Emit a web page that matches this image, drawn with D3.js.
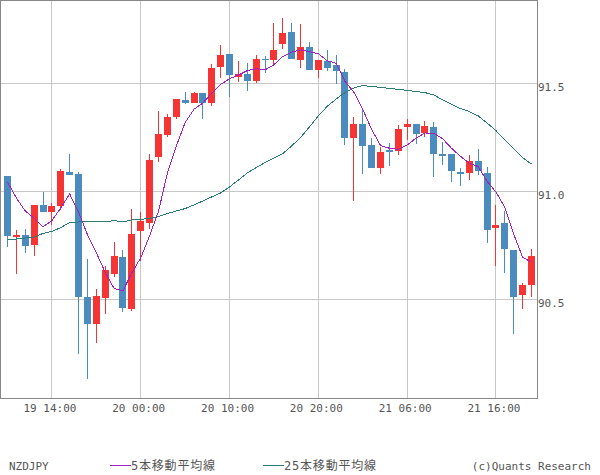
<!DOCTYPE html>
<html><head><meta charset="utf-8">
<script src="https://cdn.jsdelivr.net/npm/d3@7"></script>
<style>html,body{margin:0;padding:0;background:#fff;} svg{display:block;}</style>
</head><body>
<svg id="chart" width="600" height="475"></svg>
<script>
// ---- data ----
const symbol = "NZDJPY";
const ma5Label = "5本移動平均線";
const ma25Label = "25本移動平均線";
const credit = "(c)Quants Research";
const startTime = "19 09:00";
const xTickLabels = ["19 14:00", "20 00:00", "20 10:00", "20 20:00", "21 06:00", "21 16:00"];
const yTickValues = [90.5, 91.0, 91.5];

const openP = [91.072,90.790,90.799,90.752,90.938,90.905,90.933,91.090,91.081,90.512,
  90.387,90.507,90.618,90.697,90.456,90.817,90.854,91.160,91.262,91.345,
  91.424,91.410,91.456,91.410,91.576,91.637,91.530,91.544,91.512,91.613,
  91.609,91.683,91.738,91.609,91.669,91.5625,91.604,91.586,91.553,91.248,
  91.3125,91.215,91.109,91.192,91.1875,91.299,91.3125,91.271,91.299,91.174,
  91.174,91.090,91.086,91.141,91.086,90.831,90.854,90.729,90.521,90.567];
const highP = [91.072,90.822,90.826,90.938,90.998,90.947,91.104,91.174,91.090,90.688,
  90.549,90.655,90.766,90.729,90.919,90.905,91.174,91.373,91.359,91.428,
  91.461,91.461,91.456,91.590,91.678,91.637,91.604,91.595,91.632,91.627,
  91.780,91.803,91.780,91.775,91.692,91.609,91.655,91.632,91.567,91.345,
  91.377,91.248,91.206,91.225,91.308,91.336,91.3125,91.326,91.322,91.229,
  91.174,91.109,91.169,91.197,91.113,90.938,90.910,90.729,90.576,90.734];
const lowP = [90.743,90.618,90.717,90.701,90.905,90.845,90.914,91.076,90.248,90.132,
  90.299,90.433,90.604,90.442,90.447,90.678,90.826,91.137,91.252,91.336,
  91.405,91.410,91.336,91.396,91.525,91.438,91.507,91.465,91.502,91.549,
  91.586,91.660,91.613,91.572,91.5625,91.525,91.558,91.498,91.215,90.956,
  91.081,91.109,91.081,91.118,91.169,91.238,91.220,91.252,91.067,91.123,
  91.044,91.025,91.053,91.076,90.762,90.655,90.623,90.340,90.456,90.512];
const closeP = [90.794,90.800,90.748,90.938,90.905,90.933,91.095,91.076,90.512,90.387,
  90.516,90.637,90.701,90.461,90.803,90.863,91.146,91.266,91.345,91.428,
  91.410,91.456,91.410,91.572,91.632,91.539,91.544,91.512,91.613,91.609,
  91.655,91.734,91.613,91.669,91.5625,91.609,91.572,91.558,91.248,91.3125,
  91.211,91.109,91.183,91.183,91.289,91.3125,91.266,91.303,91.174,91.164,
  91.095,91.081,91.141,91.095,90.822,90.845,90.734,90.512,90.567,90.701];
const ma5 = [91.044,90.970,90.910,90.877,90.837,90.865,90.924,90.989,90.904,90.801,
  90.717,90.626,90.551,90.540,90.624,90.693,90.795,90.908,91.085,91.210,
  91.319,91.381,91.410,91.455,91.496,91.522,91.539,91.560,91.568,91.563,
  91.587,91.625,91.645,91.656,91.647,91.638,91.605,91.594,91.510,91.460,
  91.380,91.288,91.213,91.200,91.195,91.215,91.247,91.271,91.269,91.244,
  91.200,91.163,91.131,91.115,91.047,90.997,90.927,90.802,90.696,90.672];
const ma25 = [90.775,90.780,90.785,90.789,90.806,90.815,90.833,90.856,90.859,90.859,
  90.859,90.859,90.866,90.859,90.868,90.871,90.876,90.884,90.898,90.910,
  90.921,90.938,90.956,90.975,90.993,91.021,91.053,91.086,91.111,91.134,
  91.155,91.176,91.211,91.250,91.299,91.350,91.394,91.428,91.458,91.479,
  91.491,91.486,91.482,91.477,91.473,91.468,91.463,91.458,91.447,91.424,
  91.403,91.384,91.370,91.350,91.317,91.282,91.238,91.197,91.157,91.127];

// ---- styles ----
const upColor = "#f53434", downColor = "#4b8bbe";
const ma5Color = "#a020c0", ma25Color = "#2b7b78";
const gridColor = "#c8c8c8", frameColor = "#888888", textColor = "#555555";
const monoFont = "'DejaVu Sans Mono', 'Liberation Mono', monospace";
const cjkFont = "'DejaVu Sans Mono', 'Noto Sans CJK JP', monospace";

const parse = d3.timeParse("%d %H:%M");
const t0 = parse(startTime);
const times = closeP.map((_, i) => d3.timeHour.offset(t0, i));
const candles = times.map((t, i) => ({t, o: openP[i], h: highP[i], l: lowP[i], c: closeP[i]}));

const svg = d3.select("#chart");
const plotRight = 537, plotBottom = 398;

const x = d3.scaleTime().domain([times[0], times[times.length - 1]]).range([7.5, 531.5]);
const y = d3.scaleLinear().domain([91, 91.5]).range([191.5, 83.5]);
const px = v => Math.floor(v) + 0.5;

svg.append("rect").attr("width", 600).attr("height", 475).attr("fill", "#fff");

// grid
const grid = svg.append("g").attr("shape-rendering", "crispEdges");
grid.selectAll("line.h").data(yTickValues).join("line")
  .attr("x1", 0).attr("x2", plotRight)
  .attr("y1", d => px(y(d))).attr("y2", d => px(y(d)))
  .attr("stroke", gridColor).attr("stroke-width", 1);
grid.selectAll("line.v").data(xTickLabels).join("line")
  .attr("x1", d => px(x(parse(d)))).attr("x2", d => px(x(parse(d))))
  .attr("y1", 0).attr("y2", plotBottom)
  .attr("stroke", gridColor).attr("stroke-width", 1);

// candles
const cg = svg.append("g").attr("shape-rendering", "crispEdges");
const cs = cg.selectAll("g").data(candles).join("g");
cs.append("line")
  .attr("x1", d => px(x(d.t))).attr("x2", d => px(x(d.t)))
  .attr("y1", d => Math.round(y(d.h))).attr("y2", d => Math.round(y(d.l)))
  .attr("stroke", d => d.c >= d.o ? upColor : downColor).attr("stroke-width", 1);
cs.append("rect")
  .attr("x", d => Math.floor(x(d.t)) - 3).attr("width", 7)
  .attr("y", d => Math.round(y(Math.max(d.o, d.c))))
  .attr("height", d => Math.max(1, Math.round(y(Math.min(d.o, d.c))) - Math.round(y(Math.max(d.o, d.c)))))
  .attr("fill", d => d.c >= d.o ? upColor : downColor);

// moving averages
const line = arr => d3.line().x((d, i) => x(times[i])).y(d => y(d))(arr);
svg.append("path").attr("d", line(ma25)).attr("fill", "none")
  .attr("stroke", ma25Color).attr("stroke-width", 1).attr("shape-rendering", "crispEdges");
svg.append("path").attr("d", line(ma5)).attr("fill", "none")
  .attr("stroke", ma5Color).attr("stroke-width", 1).attr("shape-rendering", "crispEdges");

// frame
svg.append("rect").attr("x", 0.5).attr("y", 0.5).attr("width", plotRight).attr("height", plotBottom)
  .attr("fill", "none").attr("stroke", frameColor).attr("stroke-width", 1).attr("shape-rendering", "crispEdges");

// axis labels
svg.append("g").selectAll("text").data(yTickValues).join("text")
  .attr("x", 538).attr("y", d => y(d) + 7.5)
  .attr("font-family", monoFont).attr("font-size", 11).attr("fill", textColor)
  .text(d => d3.format(".1f")(d));
svg.append("g").selectAll("text").data(xTickLabels).join("text")
  .attr("x", d => x(parse(d)) - 2).attr("y", 412).attr("text-anchor", "middle")
  .attr("font-family", monoFont).attr("font-size", 11).attr("fill", textColor)
  .text(d => d);

// legend
const lg = svg.append("g");
lg.append("text").attr("x", 9).attr("y", 470).attr("font-family", monoFont)
  .attr("font-size", 11).attr("fill", textColor).text(symbol);
lg.append("line").attr("x1", 110).attr("x2", 131).attr("y1", 465.5).attr("y2", 465.5)
  .attr("stroke", ma5Color).attr("stroke-width", 1);
lg.append("text").attr("x", 131).attr("y", 470).attr("font-family", cjkFont)
  .attr("font-size", 12).attr("letter-spacing", 0.8).attr("fill", textColor).text(ma5Label);
lg.append("line").attr("x1", 263).attr("x2", 284).attr("y1", 465.5).attr("y2", 465.5)
  .attr("stroke", ma25Color).attr("stroke-width", 1);
lg.append("text").attr("x", 284).attr("y", 470).attr("font-family", cjkFont)
  .attr("font-size", 12).attr("letter-spacing", 0.8).attr("fill", textColor).text(ma25Label);
lg.append("text").attr("x", 591).attr("y", 470).attr("text-anchor", "end").attr("font-family", monoFont)
  .attr("font-size", 11).attr("fill", textColor).text(credit);
</script>
</body></html>
